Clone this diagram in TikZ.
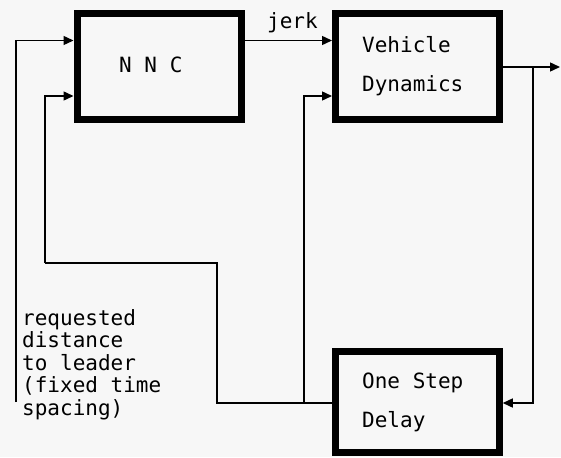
\documentclass[tikz,border=0pt]{standalone}
\usepackage{fontspec}
\setmonofont{DejaVu Sans Mono}
\usetikzlibrary{arrows.meta}
\definecolor{bg}{HTML}{F7F7F7}
\begin{document}
\begin{tikzpicture}[x=1pt,y=-1pt,
  blk/.style={draw=black,line width=7pt,minimum width=164pt,minimum height=106pt,inner sep=0pt},
  wire/.style={line width=1.4pt},
  arr/.style={wire,-{Triangle[length=10pt,width=9pt]}},
  lbl/.style={font=\ttfamily\fontsize{21}{22.5}\selectfont,inner sep=0pt,anchor=base west}]
\fill[bg] (0,0) rectangle (561,457);
\useasboundingbox (0,0) rectangle (561,457);
\node[blk] (nnc) at (159,66.5) {};
\node[blk,minimum width=164pt] (vd) at (417.5,66.5) {};
\node[blk,minimum height=101pt,line width=6.5pt] (dl) at (417.5,402) {};
\node[lbl] (t1) at (119,73) {N N C};
\node[lbl] (t2) at (362,53) {Vehicle};
\node[lbl] (t3) at (362,92) {Dynamics};
\node[lbl] (t4) at (362,388) {One Step};
\node[lbl] (t5) at (362,427) {Delay};
\node[lbl] (jk) at (267,29) {jerk};
\node[lbl] (r1) at (22,325) {requested};
\node[lbl] (r2) at (22,347.5) {distance};
\node[lbl] (r3) at (22,370) {to leader};
\node[lbl] (r4) at (22,392.5) {(fixed time};
\node[lbl] (r5) at (22,415) {spacing)};
\coordinate (req) at (16,402);
\coordinate (out) at (560,67);
\coordinate (tap) at (533,67);
\coordinate (c1) at (217,403);
\coordinate (c2) at (45,263);
\coordinate (br) at (304,403);
\draw[arr] (req) |- (nnc.west |- 0,40.5);
\draw[arr] (nnc.east |- 0,40.5) -- (vd.west |- 0,40.5);
\draw[arr] (vd.east |- out) -- (out);
\draw[arr] (tap) |- (dl.east |- 0,403);
\draw[wire] (dl.west |- 0,403) -- (c1) |- (c2);
\draw[arr] (c2) |- (nnc.west |- 0,96);
\draw[arr] (br) |- (vd.west |- 0,96);
\end{tikzpicture}
\end{document}
